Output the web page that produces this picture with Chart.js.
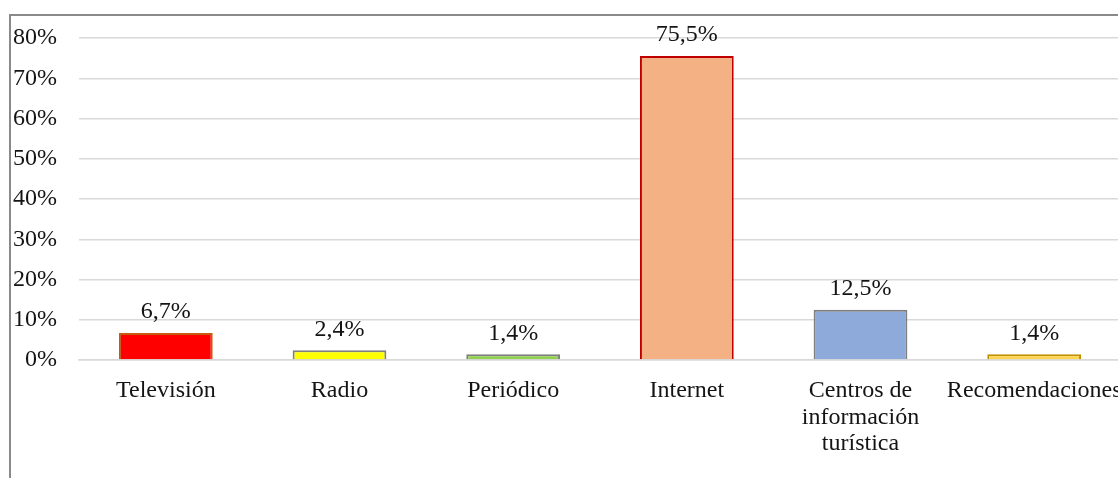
<!DOCTYPE html>
<html><head><meta charset="utf-8">
<script src="https://cdn.jsdelivr.net/npm/chart.js@4.4.1/dist/chart.umd.min.js"></script>
<style>
html,body{margin:0;padding:0;background:#fff;overflow:hidden;width:1118px;height:478px;}
#frame{position:absolute;left:9px;top:14px;width:1140px;height:490px;border:2px solid #8a8a8a;box-sizing:border-box;}
#wrap{position:absolute;left:11px;top:16px;width:1120px;height:470px;}
</style></head><body>
<div id="frame"></div>
<div id="wrap"><canvas id="c" width="1120" height="470"></canvas></div>
<script>
const categories = ["Televisión","Radio","Periódico","Internet",["Centros de","información","turística"],"Recomendaciones"];
const values = [6.7, 2.4, 1.4, 75.5, 12.5, 1.4];
const fillColors = ["#ff0000","#ffff00","#92d050","#f4b183","#8eaadb","#ffd54f"];
const edgeColors = ["#c55a11","#7f7f7f","#7f7f7f","#c00000","#7f7f7f","#bf9000"];
const yTicks = [0,10,20,30,40,50,60,70,80];

const FONT = "'Liberation Serif','Times New Roman',serif";
const labelPlugin = {
  id:'valueLabels',
  afterDatasetsDraw(chart){
    const ctx = chart.ctx;
    const meta = chart.getDatasetMeta(0);
    ctx.save();
    ctx.font = "24px " + FONT;
    ctx.fillStyle = "#141414";
    ctx.textAlign = "center";
    ctx.textBaseline = "middle";
    meta.data.forEach((bar,i)=>{
      ctx.fillText(values[i].toFixed(1).replace('.',',')+'%', bar.x, bar.y-21);
    });
    ctx.restore();
  }
};
function zeroPad(s){s.paddingTop=0;s.paddingBottom=0;s.paddingLeft=0;s.paddingRight=0;}

new Chart(document.getElementById('c'),{
  type:'bar',
  data:{labels:categories,datasets:[{data:values,backgroundColor:fillColors,borderColor:edgeColors,borderWidth:2,barPercentage:0.54,categoryPercentage:1}]},
  options:{
    responsive:false,animation:false,devicePixelRatio:1,
    layout:{padding:{top:22,right:10,left:0,bottom:0},autoPadding:false},
    plugins:{legend:{display:false},tooltip:{enabled:false}},
    scales:{
      x:{
        grid:{display:false},
        border:{display:true,color:'#d9d9d9',width:1.5},
        ticks:{font:{family:FONT,size:24,lineHeight:1.12},color:'#141414',padding:9,maxRotation:0,autoSkip:false},
        afterFit(s){s.height=126;zeroPad(s);}
      },
      y:{
        min:0,max:80,
        afterBuildTicks(s){s.ticks=yTicks.map(v=>({value:v}));},
        grid:{color:'#d9d9d9',lineWidth:1.5,drawTicks:false},
        border:{display:false},
        ticks:{font:{family:FONT,size:24},color:'#141414',padding:22,callback:v=>v+'%'},
        afterFit(s){s.width=68;zeroPad(s);}
      }
    }
  },
  plugins:[labelPlugin]
});
</script>
</body></html>
